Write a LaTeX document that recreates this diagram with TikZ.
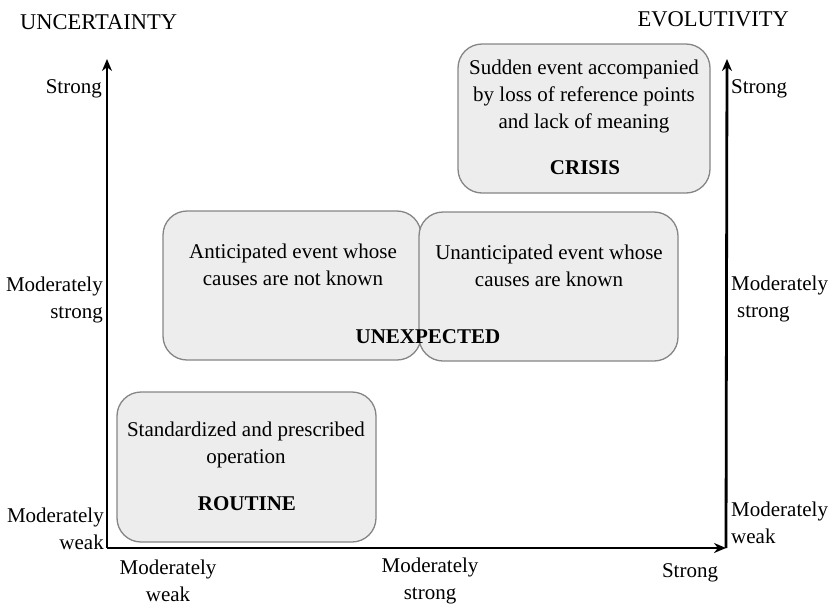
\documentclass[tikz,border=0pt]{standalone}
\usepackage{fontspec}
\setmainfont{Liberation Serif}
\usetikzlibrary{arrows.meta}
\begin{document}
\begin{tikzpicture}[x=1pt,y=-1pt,
  txt/.style={font=\fontsize{21}{27}\selectfont,align=center,inner sep=0pt},
  lbl/.style={font=\fontsize{21}{27}\selectfont,inner sep=0pt},
  ttl/.style={font=\fontsize{22.5}{27}\selectfont,inner sep=0pt},
  tag/.style={font=\fontsize{21}{27}\selectfont\bfseries,inner sep=0pt},
  zone/.style={draw=black!48,line width=1.3pt,fill=black!7,rounded corners=24pt},
  axis/.style={line width=2.8pt,-{Stealth[length=12pt,width=10pt]}}]
\useasboundingbox (0,0) rectangle (833,606);

% category boxes
\draw[zone] (117,392) rectangle (376,542);
\draw[zone] (163,211) rectangle (421,360);
\draw[zone] (419,212) rectangle (678,361);
\draw[zone] (458,44) rectangle (710,193);

% axes
\coordinate (o) at (107,548);
\coordinate (ytop) at (107,59);
\coordinate (xend) at (726,548);
\coordinate (rtop) at (727,59);
\draw[axis] (o) -- (ytop);
\draw[axis] (o) -- (xend);
\draw[axis] (xend) -- (rtop);

% box texts
\node[txt] (crisisd) at (584,96) {Sudden event accompanied\\by loss of reference points\\and lack of meaning};
\node[tag] (crisis) at (585,168) {CRISIS};
\node[txt] (antic) at (293,265) {Anticipated event whose\\causes are not known};
\node[txt] (unantic) at (549,266) {Unanticipated event whose\\causes are known};
\node[tag] (unexp) at (428,337) {UNEXPECTED};
\node[txt] (stdop) at (246,445) {Standardized and prescribed\\operation};
\node[tag] (routine) at (247,504) {ROUTINE};

% axis titles
\node[ttl,anchor=west] (unc) at (20,22) {UNCERTAINTY};
\node[ttl,anchor=east] (evo) at (789,19) {EVOLUTIVITY};

% left scale
\node[lbl,anchor=east] (l1) at (102,89) {Strong};
\node[txt,align=right,anchor=east] (l2) at (103,300) {Moderately\\strong};
\node[txt,align=right,anchor=east] (l3) at (104,529) {Moderately\\weak};

% right scale
\node[lbl,anchor=west] (r1) at (731,89) {Strong};
\node[txt,align=left,anchor=west] (r2) at (731,299) {Moderately\\\hspace*{6pt}strong};
\node[txt,align=left,anchor=west] (r3) at (731,523) {Moderately\\weak};

% bottom scale
\node[txt] (b1) at (168,581) {Moderately\\weak};
\node[txt] (b2) at (430,581) {Moderately\\strong};
\node[lbl] (b3) at (690,573) {Strong};
\end{tikzpicture}
\end{document}
